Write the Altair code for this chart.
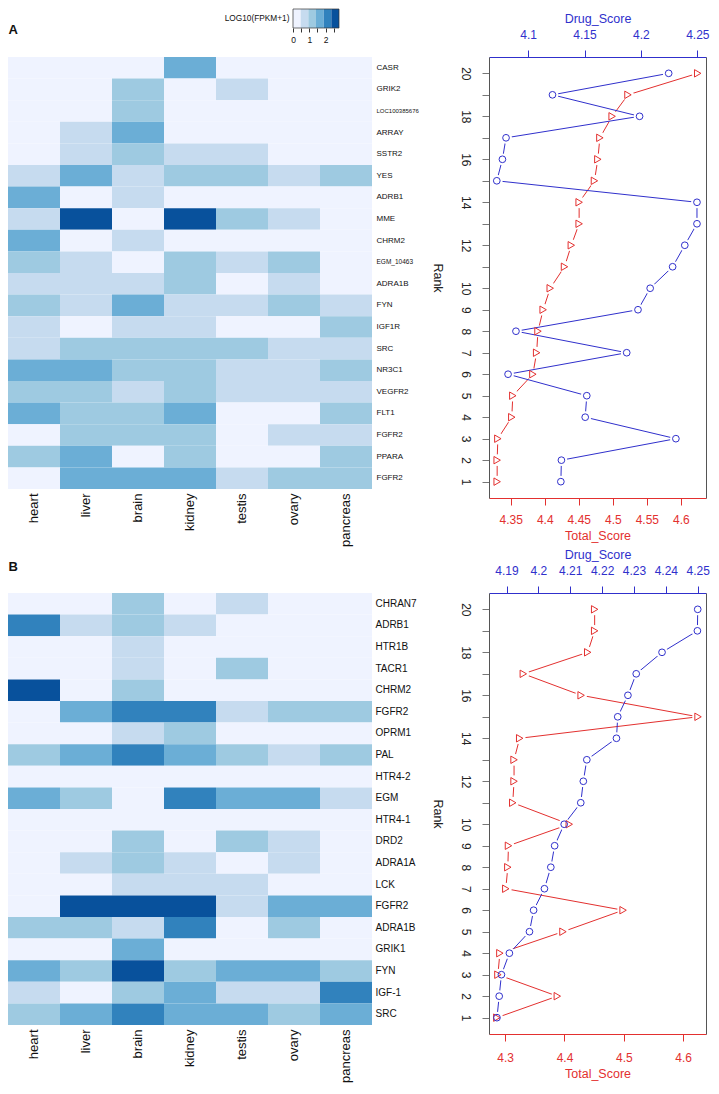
import json
import altair as alt
import pandas as pd

FONT = "Liberation Sans"
BLUE = "#3030CC"
RED = "#E3302F"
FRAME = "#555555"

tissues = ["heart", "liver", "brain", "kidney", "testis", "ovary", "pancreas"]

genes_a = ["CASR", "GRIK2", "LOC100385676", "ARRAY", "SSTR2", "YES", "ADRB1", "MME",
           "CHRM2", "EGM_10463", "ADRA1B", "FYN", "IGF1R", "SRC", "NR3C1", "VEGFR2",
           "FLT1", "FGFR2", "PPARA", "FGFR2"]
expr_a = [
    [0.2, 0.2, 0.2, 1.6, 0.2, 0.2, 0.2],
    [0.2, 0.2, 1.15, 0.2, 0.7, 0.2, 0.2],
    [0.2, 0.2, 1.15, 0.2, 0.2, 0.2, 0.2],
    [0.2, 0.7, 1.6, 0.2, 0.2, 0.2, 0.2],
    [0.2, 0.7, 1.15, 0.7, 0.7, 0.2, 0.2],
    [0.7, 1.6, 0.7, 1.15, 1.15, 0.7, 1.15],
    [1.6, 0.2, 0.7, 0.2, 0.2, 0.2, 0.2],
    [0.7, 2.6, 0.2, 2.6, 1.15, 0.7, 0.2],
    [1.6, 0.2, 0.7, 0.2, 0.2, 0.2, 0.2],
    [1.15, 0.7, 0.2, 1.15, 0.7, 1.15, 0.2],
    [0.7, 0.7, 0.7, 1.15, 0.2, 0.7, 0.2],
    [1.15, 0.7, 1.6, 0.7, 0.7, 1.15, 0.7],
    [0.7, 0.2, 0.7, 0.7, 0.2, 0.2, 1.15],
    [0.7, 1.15, 1.15, 1.15, 1.15, 0.7, 0.7],
    [1.6, 1.6, 1.15, 1.15, 0.7, 0.7, 1.15],
    [1.15, 1.15, 0.7, 1.15, 0.7, 0.7, 0.7],
    [1.6, 1.15, 1.15, 1.6, 0.2, 0.2, 1.15],
    [0.2, 1.15, 1.15, 1.15, 0.2, 0.7, 0.7],
    [1.15, 1.6, 0.2, 1.15, 0.2, 0.2, 1.15],
    [0.2, 1.6, 1.6, 1.6, 0.7, 1.15, 1.15],
]

genes_b = ["CHRAN7", "ADRB1", "HTR1B", "TACR1", "CHRM2", "FGFR2", "OPRM1", "PAL",
           "HTR4-2", "EGM", "HTR4-1", "DRD2", "ADRA1A", "LCK", "FGFR2", "ADRA1B",
           "GRIK1", "FYN", "IGF-1", "SRC"]
expr_b = [
    [0.2, 0.2, 1.15, 0.2, 0.7, 0.2, 0.2],
    [2.1, 0.7, 1.15, 0.7, 0.2, 0.2, 0.2],
    [0.2, 0.2, 0.7, 0.2, 0.2, 0.2, 0.2],
    [0.2, 0.2, 0.7, 0.2, 1.15, 0.2, 0.2],
    [2.6, 0.2, 1.15, 0.2, 0.2, 0.2, 0.2],
    [0.2, 1.6, 2.1, 2.1, 0.7, 1.15, 1.15],
    [0.2, 0.2, 0.7, 1.15, 0.2, 0.2, 0.2],
    [1.15, 1.6, 2.1, 1.6, 1.15, 0.7, 1.15],
    [0.2, 0.2, 0.2, 0.2, 0.2, 0.2, 0.2],
    [1.6, 1.15, 0.2, 2.1, 1.6, 1.6, 0.7],
    [0.2, 0.2, 0.2, 0.2, 0.2, 0.2, 0.2],
    [0.2, 0.2, 1.15, 0.2, 1.15, 0.7, 0.2],
    [0.2, 0.7, 1.15, 0.7, 0.2, 0.7, 0.2],
    [0.2, 0.2, 0.7, 0.7, 0.7, 0.2, 0.2],
    [0.2, 2.6, 2.6, 2.6, 0.7, 1.6, 1.6],
    [1.15, 1.15, 0.7, 2.1, 0.2, 1.15, 0.2],
    [0.2, 0.2, 1.6, 0.2, 0.2, 0.2, 0.2],
    [1.6, 1.15, 2.6, 1.15, 1.6, 1.6, 1.15],
    [0.7, 0.2, 1.15, 1.6, 0.7, 0.7, 2.1],
    [1.15, 1.6, 2.1, 1.6, 1.6, 1.15, 1.6],
]

legend_breaks = [0, 0.47, 0.94, 1.41, 1.88, 2.35, 2.82]
legend_ticks = [0, 0.5, 1, 1.5, 2, 2.5]
blues = ["#eff3ff", "#c6dbef", "#9ecae1", "#6baed6", "#3182bd", "#08519c"]

ranks = list(range(1, 21))
hidden_rank_labels = [11, 13, 15, 17, 19]
rank_dom = [0.24, 20.76]

drug_a = [4.129, 4.1295, 4.231, 4.1506, 4.152, 4.0822, 4.1874, 4.0892, 4.1974, 4.2082,
          4.2281, 4.2389, 4.2497, 4.2497, 4.0722, 4.0772, 4.0804, 4.1988, 4.1216, 4.2246]
total_a = [4.330, 4.330, 4.331, 4.3515, 4.353, 4.3825, 4.388, 4.390, 4.3976, 4.408,
           4.429, 4.439, 4.4505, 4.4505, 4.473, 4.478, 4.481, 4.499, 4.5223, 4.6248]
drug_b = [4.187, 4.1877, 4.1884, 4.1909, 4.1972, 4.1985, 4.2019, 4.2039, 4.2051, 4.2081,
          4.2133, 4.2141, 4.2152, 4.2245, 4.2249, 4.2281, 4.2307, 4.2388, 4.2499, 4.25]
total_b = [4.286, 4.3879, 4.2878, 4.2911, 4.3974, 4.4987, 4.3011, 4.3045, 4.3056, 4.408,
           4.3128, 4.315, 4.315, 4.3245, 4.625, 4.428, 4.3306, 4.4391, 4.4508, 4.4508]

drug_dom_a = [4.0653, 4.2577]
total_dom_a = [4.318, 4.637]
drug_dom_b = [4.1845, 4.2526]
total_dom_b = [4.2728, 4.6384]
drug_ticks_a = [4.1, 4.15, 4.2, 4.25]
total_ticks_a = [4.35, 4.4, 4.45, 4.5, 4.55, 4.6]
drug_ticks_b = [4.19, 4.2, 4.21, 4.22, 4.23, 4.24, 4.25]
total_ticks_b = [4.3, 4.4, 4.5, 4.6]

HEAT_W, HEAT_H = 364, 432
RANK_W, RANK_H = 217, 441

color_scale = alt.Scale(type="threshold", domain=legend_breaks[1:-1], range=blues)


def heat_panel(letter, genes, rows, gene_size, small, gene_pad, with_legend, letter_y):
    recs = [{"row": i, "tissue": t, "value": v}
            for i, vals in enumerate(rows) for t, v in zip(tissues, vals)]
    df = pd.DataFrame(recs)
    if small:
        fs = {"condition": [{"test": f"datum.value == {i}", "value": s} for i, s in small],
              "value": gene_size}
    else:
        fs = gene_size
    heat = alt.Chart(df).mark_rect().encode(
        x=alt.X("tissue:N", sort=tissues, scale=alt.Scale(paddingInner=0, paddingOuter=0),
                axis=alt.Axis(title=letter, titleX=0, titleY=letter_y, titleAlign="left",
                              titleBaseline="alphabetic", titleAngle=0, titleFont=FONT,
                              titleFontSize=13, titleFontWeight="bold", titleColor="#111111",
                              orient="bottom", labelAngle=270, labelAlign="right",
                              labelBaseline="middle", labelFont=FONT, labelFontSize=13,
                              labelColor="#111111", labelPadding=4, ticks=False, domain=False)),
        y=alt.Y("row:O", sort="ascending", scale=alt.Scale(paddingInner=0, paddingOuter=0),
                axis=alt.Axis(title=None, orient="right", labelExpr=f"{json.dumps(genes)}[datum.value]",
                              labelFont=FONT, labelFontSize=fs, labelColor="#111111",
                              labelPadding=gene_pad, ticks=False, domain=False,
                              labelAlign="left", labelBaseline="middle")),
        color=alt.Color("value:Q", scale=color_scale, legend=None),
    )
    if not with_legend:
        return heat.properties(width=HEAT_W, height=HEAT_H)

    leg_df = pd.DataFrame({"lo": legend_breaks[:-1], "hi": legend_breaks[1:]})
    box_df = pd.DataFrame({"lo": [legend_breaks[0]], "hi": [legend_breaks[-1]]})
    leg_scale = alt.Scale(domain=[legend_breaks[0], legend_breaks[-1]], range=[285, 331],
                          nice=False, zero=False)
    leg_axis = alt.Axis(orient="bottom", offset=-461, values=legend_ticks,
                        labelExpr="datum.value % 1 == 0 ? '' + datum.value : ''",
                        title="LOG10(FPKM+1)", titleX=281, titleY=-10, titleAlign="right",
                        titleBaseline="middle", titleAngle=0, titleFont=FONT, titleFontSize=8.3,
                        titleFontWeight="normal", titleColor="#111111", labelFont=FONT,
                        labelFontSize=8.5, labelColor="#111111", labelPadding=3, tickSize=4,
                        tickColor="#333333", domain=False, grid=False, labelOverlap=False,
                        labelFlush=False)
    leg_rects = alt.Chart(leg_df).mark_rect().encode(
        x=alt.X("lo:Q", scale=leg_scale, axis=leg_axis), x2="hi:Q",
        y=alt.value(-48), y2=alt.value(-29),
        color=alt.Color("lo:Q", scale=color_scale, legend=None),
    )
    leg_box = alt.Chart(box_df).mark_rect(fillOpacity=0, stroke="#333333", strokeWidth=0.7).encode(
        x=alt.X("lo:Q", scale=leg_scale, axis=leg_axis), x2="hi:Q",
        y=alt.value(-48), y2=alt.value(-29),
    )
    return alt.layer(heat, alt.layer(leg_rects, leg_box)).resolve_scale(
        x="independent", y="independent").properties(width=HEAT_W, height=HEAT_H)


def rank_panel(drug, total, ddom, tdom, dticks, tticks, bottom_pad):
    df = pd.DataFrame({"rank": ranks, "drug": drug, "total": total})
    base = alt.Chart(df)
    y_scale = alt.Scale(domain=rank_dom, nice=False, zero=False)
    y_left = alt.Y("rank:Q", scale=y_scale,
                   axis=alt.Axis(title="Rank", orient="left", values=ranks,
                                 labelExpr=f"indexof({json.dumps(hidden_rank_labels)}, datum.value) >= 0 ? '' : datum.label",
                                 labelAngle=90, labelAlign="center", labelBaseline="top", labelFont=FONT,
                                 labelFontSize=12, labelColor="#222222", labelPadding=12, tickSize=7,
                                 tickColor="#777777", domain=True, domainColor=FRAME, domainWidth=1,
                                 grid=False, labelOverlap=False,
                                 labelFlush=False, titleAngle=90, titleBaseline="top", titleAlign="center",
                                 titleFont=FONT, titleFontSize=12.5, titleFontWeight="normal",
                                 titleColor="#222222", titlePadding=16))
    y_right = alt.Y("rank:Q", scale=y_scale,
                    axis=alt.Axis(title=None, orient="right", labels=False, ticks=False,
                                  domain=True, domainColor=FRAME, domainWidth=1, grid=False))
    y_none = alt.Y("rank:Q", scale=y_scale, axis=None)
    d_scale = alt.Scale(domain=ddom, nice=False, zero=False)
    t_scale = alt.Scale(domain=tdom, nice=False, zero=False)
    d_axis = alt.Axis(title="Drug_Score", orient="top", values=dticks, format="~g",
                      labelFont=FONT, labelFontSize=12, labelColor=BLUE, labelPadding=9,
                      tickSize=7, tickColor=BLUE, domain=True, domainColor=BLUE, domainWidth=1,
                      grid=False, labelFlush=False,
                      labelOverlap=False, titleFont=FONT, titleFontSize=12.5, titleFontWeight="normal",
                      titleColor=BLUE, titlePadding=3)
    t_axis = alt.Axis(title="Total_Score", orient="bottom", values=tticks, format="~g",
                      labelFont=FONT, labelFontSize=12, labelColor=RED, labelPadding=bottom_pad,
                      tickSize=7, tickColor=RED, domain=True, domainColor=RED, domainWidth=1,
                      grid=False, labelFlush=False,
                      labelOverlap=False, titleFont=FONT, titleFontSize=12.5, titleFontWeight="normal",
                      titleColor=RED, titlePadding=4)
    xd = alt.X("drug:Q", scale=d_scale, axis=d_axis)
    xt = alt.X("total:Q", scale=t_scale, axis=t_axis)
    xd_n = alt.X("drug:Q", scale=d_scale, axis=None)
    xt_n = alt.X("total:Q", scale=t_scale, axis=None)
    order = alt.Order("rank:Q")

    red_lines = alt.layer(
        base.mark_line(color=RED, strokeWidth=1).encode(x=xt, y=y_left, order=order),
        base.mark_point(shape="circle", filled=True, color="white", opacity=1, size=140,
                        strokeWidth=0).encode(x=xt, y=y_left),
    )
    blue_lines = alt.layer(
        base.mark_line(color=BLUE, strokeWidth=1).encode(x=xd, y=y_right, order=order),
        base.mark_point(shape="circle", filled=True, color="white", opacity=1, size=140,
                        strokeWidth=0).encode(x=xd, y=y_right),
    )
    red_pts = base.mark_point(shape="triangle-right", filled=False, color=RED, size=55,
                              strokeWidth=1, opacity=1).encode(x=xt_n, y=y_none)
    blue_pts = base.mark_point(shape="circle", filled=False, color=BLUE, size=45,
                               strokeWidth=1, opacity=1).encode(x=xd_n, y=y_none)
    return alt.layer(red_lines, blue_lines, red_pts, blue_pts).resolve_scale(
        x="independent", y="independent").properties(width=RANK_W, height=RANK_H)


heat_a = heat_panel("A", genes_a, expr_a, 8, [(2, 6), (9, 6.5)], 4, True, -456)
heat_b = heat_panel("B", genes_b, expr_b, 10, [], 3, False, -455)
rank_a = rank_panel(drug_a, total_a, drug_dom_a, total_dom_a, drug_ticks_a, total_ticks_a, 9)
rank_b = rank_panel(drug_b, total_b, drug_dom_b, total_dom_b, drug_ticks_b, total_ticks_b, 11)

row_a = alt.hconcat(heat_a, rank_a, spacing=117, bounds="flush")
row_b = alt.hconcat(heat_b, rank_b, spacing=117, bounds="flush")

chart = alt.vconcat(row_a, row_b, spacing=1).properties(
    padding=0, background="white"
).configure(font=FONT).configure_view(strokeWidth=0)

chart.save("out.html", embed_options={"renderer": "svg", "actions": False})
